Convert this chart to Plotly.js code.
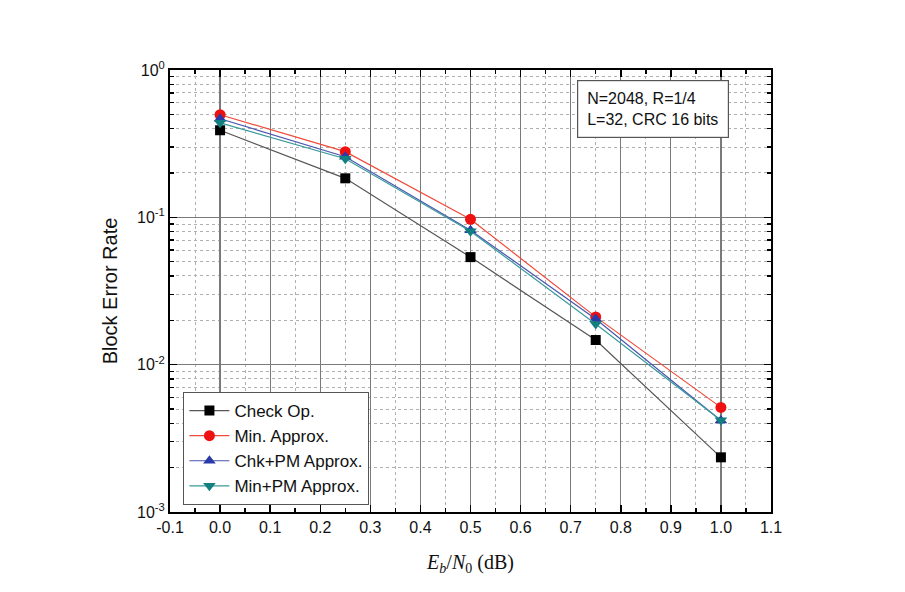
<!DOCTYPE html>
<html><head><meta charset="utf-8">
<script src="https://cdn.plot.ly/plotly-3.0.1.min.js"></script>
<style>html,body{margin:0;padding:0;background:#fff}#c{width:905px;height:592px}</style>
</head><body><div id="c"></div>
<script>
const ebn0 = [0.0, 0.25, 0.5, 0.75, 1.0];
const checkOp = [0.39, 0.184, 0.0537, 0.0147, 0.00235];
const minApprox = [0.497, 0.279, 0.097, 0.0211, 0.00513];
const chkPM = [0.467, 0.258, 0.0817, 0.0204, 0.00418];
const minPM = [0.438, 0.250, 0.0805, 0.0189, 0.0042];
const seriesNames = ["Check Op.", "Min. Approx.", "Chk+PM Approx.", "Min+PM Approx."];
const xTickVals = [-0.1, 0.0, 0.1, 0.2, 0.3, 0.4, 0.5, 0.6, 0.7, 0.8, 0.9, 1.0, 1.1];
const xTickText = ["-0.1", "0.0", "0.1", "0.2", "0.3", "0.4", "0.5", "0.6", "0.7", "0.8", "0.9", "1.0", "1.1"];
const yTickVals = [1, 0.1, 0.01, 0.001];
const yTickText = ["10<sup>0</sup>", "10<sup>-1</sup>", "10<sup>-2</sup>", "10<sup>-3</sup>"];

const traces = [
  {x: ebn0, y: checkOp, name: seriesNames[0], mode: "lines+markers",
   line: {color: "#5a5555", width: 1.2}, marker: {symbol: "square", size: 10, color: "#000000"}},
  {x: ebn0, y: minApprox, name: seriesNames[1], mode: "lines+markers",
   line: {color: "#f04a3a", width: 1.2}, marker: {symbol: "circle", size: 11, color: "#ee1111"}},
  {x: ebn0, y: chkPM, name: seriesNames[2], mode: "lines+markers",
   line: {color: "#4a55b0", width: 1.2}, marker: {symbol: "triangle-up", size: 11, color: "#2a3aa8"}},
  {x: ebn0, y: minPM, name: seriesNames[3], mode: "lines+markers",
   line: {color: "#3a9a9a", width: 1.2}, marker: {symbol: "triangle-down", size: 11, color: "#138080"}}
];

const layout = {
  width: 905, height: 592,
  margin: {l: 170, r: 134, t: 70, b: 80},
  paper_bgcolor: "#fff", plot_bgcolor: "#fff",
  font: {family: "Liberation Sans, Arial, sans-serif", size: 16, color: "#111"},
  showlegend: true,
  legend: {x: 0.022, y: 0.272, xanchor: "left", yanchor: "top",
    bgcolor: "#fff", bordercolor: "#555", borderwidth: 1.2,
    font: {size: 17, color: "#111"}, tracegroupgap: 0, itemwidth: 40},
  xaxis: {
    range: [-0.1, 1.1], tickmode: "array", tickvals: xTickVals, ticktext: xTickText,
    showline: true, linecolor: "#000", linewidth: 2, mirror: "allticks",
    ticks: "inside", ticklen: 7, tickwidth: 1.5, tickcolor: "#000",
    showgrid: true, gridcolor: "#7a7a7a", gridwidth: 1.3,
    zeroline: false,
    minor: {tickmode: "linear", tick0: 0, dtick: 0.05, ticks: "inside", ticklen: 4, tickcolor: "#000", showgrid: true,
            gridcolor: "#b0b0b0", griddash: "dot", gridwidth: 1},
    title: {text: "<i>E<sub>b</sub></i>/<i>N</i><sub>0</sub> (dB)", standoff: 20,
            font: {family: "Liberation Serif, Times New Roman, serif", size: 20, color: "#111"}},
    tickfont: {size: 16}
  },
  yaxis: {
    type: "log", range: [-3, 0],
    tickvals: yTickVals, ticktext: yTickText,
    showline: true, linecolor: "#000", linewidth: 2, mirror: "allticks",
    ticks: "inside", ticklen: 7, tickwidth: 1.5, tickcolor: "#000",
    showgrid: true, gridcolor: "#7a7a7a", gridwidth: 1.3,
    minor: {dtick: "D1", ticks: "inside", ticklen: 4, tickcolor: "#000", showgrid: true,
            gridcolor: "#b0b0b0", griddash: "dot", gridwidth: 1},
    title: {text: "Block Error Rate", standoff: 14, font: {size: 20, color: "#111"}},
    tickfont: {size: 16}
  },
  annotations: [{
    xref: "paper", yref: "paper", x: 0.678, y: 0.978, xanchor: "left", yanchor: "top",
    text: "N=2048, R=1/4<br>L=32, CRC 16 bits", align: "left", showarrow: false,
    font: {size: 16, color: "#111"}, bgcolor: "#fff", bordercolor: "#555", borderwidth: 1.2,
    borderpad: 9
  }]
};
Plotly.newPlot("c", traces, layout, {displayModeBar: false, staticPlot: true});
</script>
</body></html>
